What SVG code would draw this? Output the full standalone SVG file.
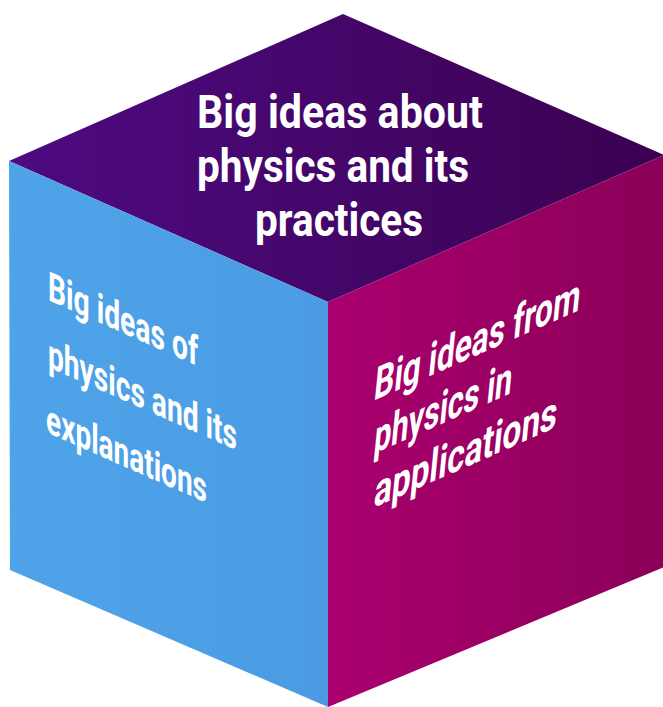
<svg xmlns="http://www.w3.org/2000/svg" width="663" height="707" viewBox="0 0 663 707">
  <defs>
    <linearGradient id="gTop" x1="0" y1="0" x2="1" y2="0">
      <stop offset="0" stop-color="#4e0a82"/>
      <stop offset="1" stop-color="#3a0250"/>
    </linearGradient>
    <linearGradient id="gLeft" x1="0" y1="0" x2="1" y2="0">
      <stop offset="0" stop-color="#4fa4e9"/>
      <stop offset="1" stop-color="#4a9be3"/>
    </linearGradient>
    <linearGradient id="gRight" x1="0" y1="0" x2="1" y2="0">
      <stop offset="0" stop-color="#ab006f"/>
      <stop offset="1" stop-color="#8a0058"/>
    </linearGradient>
  </defs>
  <style>
    .lbl { font-family: Roboto, "Liberation Sans", "DejaVu Sans", sans-serif; font-weight: bold; fill: #ffffff; }
    .top { font-size: 46px; text-anchor: middle; }
    .lft { font-size: 41px; }
    .rgt { font-size: 45px; }
  </style>

  <!-- top face -->
  <g id="face-top">
    <polygon points="343,14 664,155 328,302 9,161" fill="url(#gTop)"/>
    <text class="lbl top" x="340" y="128" textLength="286" lengthAdjust="spacingAndGlyphs">Big ideas about</text>
    <text class="lbl top" x="333" y="182" textLength="272" lengthAdjust="spacingAndGlyphs">physics and its</text>
    <text class="lbl top" x="339" y="236" textLength="168" lengthAdjust="spacingAndGlyphs">practices</text>
  </g>

  <!-- left face -->
  <g id="face-left">
    <polygon points="9,161 328,302 328,707 10,570" fill="url(#gLeft)"/>
    <g transform="translate(48,300) skewY(23.8)">
      <text class="lbl lft" x="0" y="0" textLength="150" lengthAdjust="spacingAndGlyphs">Big ideas of</text>
      <text class="lbl lft" x="0" y="67" textLength="189" lengthAdjust="spacingAndGlyphs">physics and its</text>
      <text class="lbl lft" x="-2" y="133" textLength="161" lengthAdjust="spacingAndGlyphs">explanations</text>
    </g>
  </g>

  <!-- right face -->
  <g id="face-right">
    <polygon points="328,302 664,155 664,567 328,707" fill="url(#gRight)"/>
    <g transform="translate(373,401) skewY(-23.8)">
      <text class="lbl rgt" transform="skewX(-6)" textLength="206" lengthAdjust="spacingAndGlyphs">Big ideas from</text>
      <text class="lbl rgt" transform="translate(0,53) skewX(-6)" textLength="138" lengthAdjust="spacingAndGlyphs">physics in</text>
      <text class="lbl rgt" transform="translate(0,107) skewX(-6)" textLength="183" lengthAdjust="spacingAndGlyphs">applications</text>
    </g>
  </g>
</svg>
